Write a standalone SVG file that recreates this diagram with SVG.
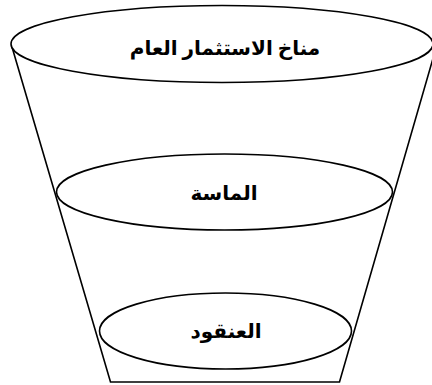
<svg xmlns="http://www.w3.org/2000/svg" width="432" height="385" viewBox="0 0 432 385">
<style>
.s{fill:none;stroke:#000;stroke-width:1.6}
.e{fill:#fff;stroke:#000;stroke-width:1.6}
.t{font-family:"Times New Roman","Liberation Serif","DejaVu Sans",serif;font-weight:bold;font-size:20px;text-anchor:middle;fill:#000}
</style>
<rect width="432" height="385" fill="#fff"/>
<g id="connectors">
<path class="s" d="M12,47 L110.5,382 L339.5,382 L436,48"/>
</g>
<g id="top">
<ellipse class="e" cx="222" cy="44" rx="211" ry="38.5"/>
<text class="t" x="225" y="55" direction="rtl">مناخ الاستثمار العام</text>
</g>
<g id="middle">
<ellipse class="e" cx="224.5" cy="192" rx="168" ry="38"/>
<text class="t" x="224" y="200" direction="rtl">الماسة</text>
</g>
<g id="bottom">
<ellipse class="e" cx="225.5" cy="331" rx="126" ry="38"/>
<text class="t" x="226" y="338" direction="rtl">العنقود</text>
</g>
</svg>
